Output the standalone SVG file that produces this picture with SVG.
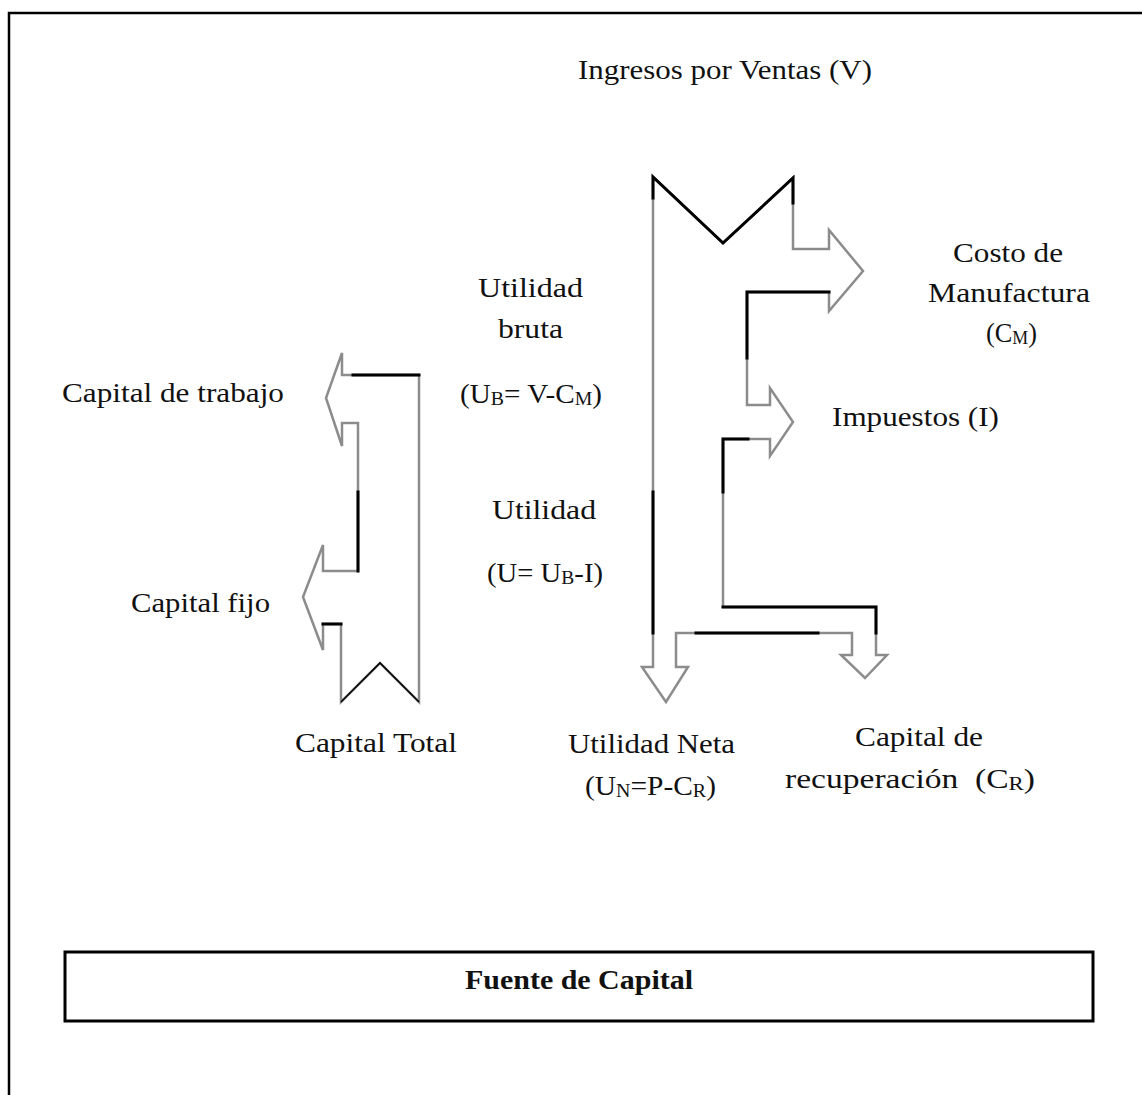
<svg xmlns="http://www.w3.org/2000/svg" width="1142" height="1095" viewBox="0 0 1142 1095">
<style>
  .t { font-family: "Liberation Serif", "DejaVu Serif", serif; font-size: 28px; fill: #111; }
  .b { font-weight: bold; }
  .sub { font-size: 19px; }
  .base { fill: none; stroke: #8c8c8c; stroke-width: 2.5; stroke-linejoin: miter; }
  .dark { fill: none; stroke: #000; stroke-width: 3; stroke-linejoin: miter; stroke-linecap: square; }
  .thin { fill: none; stroke: #000; stroke-width: 1.6; }
  .frame { fill: none; stroke: #000; stroke-width: 2.5; }
</style>
<rect x="0" y="0" width="1142" height="1095" fill="#ffffff"/>
<path class="frame" d="M9,1100 V13 H1150"/>

<g id="connectors">
  <g id="flow-ingresos">
    <path class="base" d="M653,177 L723,243 L793,178 L793,249 L829,249 L829,230 L863,271 L829,311 L829,292 L747,292 L747,405 L770,405 L770,388 L793,422 L770,456 L770,439 L723,439 L723,607 L876,607 L876,655 L887,655 L865,678 L841,655 L852,655 L852,633 L676,633 L676,667 L688,667 L666,702 L642,667 L653,667 Z"/>
    <path class="dark" d="M653,198 L653,177 L723,243 L793,178 L793,203"/>
    <path class="dark" d="M829,292 L747,292 L747,358"/>
    <path class="dark" d="M748,439 L723,439 L723,492"/>
    <path class="dark" d="M723,607 L876,607 L876,633"/>
    <path class="dark" d="M818,633 L696,633"/>
    <path class="dark" d="M653,492 L653,633"/>
  </g>
  <g id="flow-capital">
    <path class="base" d="M419,375 L342,375 L342,353 L326,398 L342,446 L342,423 L358,423 L358,571 L323,571 L323,545 L303,597 L323,650 L323,624 L341,624 L341,702 L380,663 L419,702 Z"/>
    <path class="dark" d="M419,375 L353,375"/>
    <path class="dark" d="M358,492 L358,571"/>
    <path class="dark" d="M323,624 L341,624"/>
    <path class="thin" d="M341,702 L380,663 L419,702"/>
  </g>
</g>

<g id="node-ingresos"><text class="t" x="578" y="79" textLength="294" lengthAdjust="spacingAndGlyphs">Ingresos por Ventas (V)</text></g>
<g id="node-costo">
  <text class="t" x="953" y="262" textLength="110" lengthAdjust="spacingAndGlyphs">Costo de</text>
  <text class="t" x="928" y="302" textLength="162" lengthAdjust="spacingAndGlyphs">Manufactura</text>
  <text class="t" x="986" y="342" textLength="51" lengthAdjust="spacingAndGlyphs">(C<tspan class="sub" dy="2">M</tspan><tspan dy="-2">)</tspan></text>
</g>
<g id="node-utilidad-bruta">
  <text class="t" x="478" y="297" textLength="105" lengthAdjust="spacingAndGlyphs">Utilidad</text>
  <text class="t" x="498" y="338" textLength="65" lengthAdjust="spacingAndGlyphs">bruta</text>
  <text class="t" x="460" y="403" textLength="142" lengthAdjust="spacingAndGlyphs">(U<tspan class="sub" dy="2">B</tspan><tspan dy="-2">= V-C</tspan><tspan class="sub" dy="2">M</tspan><tspan dy="-2">)</tspan></text>
</g>
<g id="node-utilidad">
  <text class="t" x="492" y="519" textLength="104" lengthAdjust="spacingAndGlyphs">Utilidad</text>
  <text class="t" x="487" y="582" textLength="116" lengthAdjust="spacingAndGlyphs">(U= U<tspan class="sub" dy="2">B</tspan><tspan dy="-2">-I)</tspan></text>
</g>
<g id="node-capital-trabajo"><text class="t" x="62" y="402" textLength="222" lengthAdjust="spacingAndGlyphs">Capital de trabajo</text></g>
<g id="node-capital-fijo"><text class="t" x="131" y="612" textLength="139" lengthAdjust="spacingAndGlyphs">Capital fijo</text></g>
<g id="node-capital-total"><text class="t" x="295" y="752" textLength="162" lengthAdjust="spacingAndGlyphs">Capital Total</text></g>
<g id="node-impuestos"><text class="t" x="832" y="426" textLength="167" lengthAdjust="spacingAndGlyphs">Impuestos (I)</text></g>
<g id="node-utilidad-neta">
  <text class="t" x="568" y="753" textLength="167" lengthAdjust="spacingAndGlyphs">Utilidad Neta</text>
  <text class="t" x="585" y="795" textLength="131" lengthAdjust="spacingAndGlyphs">(U<tspan class="sub" dy="2">N</tspan><tspan dy="-2">=P-C</tspan><tspan class="sub" dy="2">R</tspan><tspan dy="-2">)</tspan></text>
</g>
<g id="node-capital-recuperacion">
  <text class="t" x="855" y="746" textLength="128" lengthAdjust="spacingAndGlyphs">Capital de</text>
  <text class="t" x="785" y="788" textLength="250" lengthAdjust="spacingAndGlyphs" xml:space="preserve">recuperación  (C<tspan class="sub" dy="2">R</tspan><tspan dy="-2">)</tspan></text>
</g>
<g id="node-fuente">
  <rect x="65" y="952" width="1028" height="69" fill="none" stroke="#000" stroke-width="3"/>
  <text class="t b" x="465" y="989" textLength="228" lengthAdjust="spacingAndGlyphs">Fuente de Capital</text>
</g>
</svg>
